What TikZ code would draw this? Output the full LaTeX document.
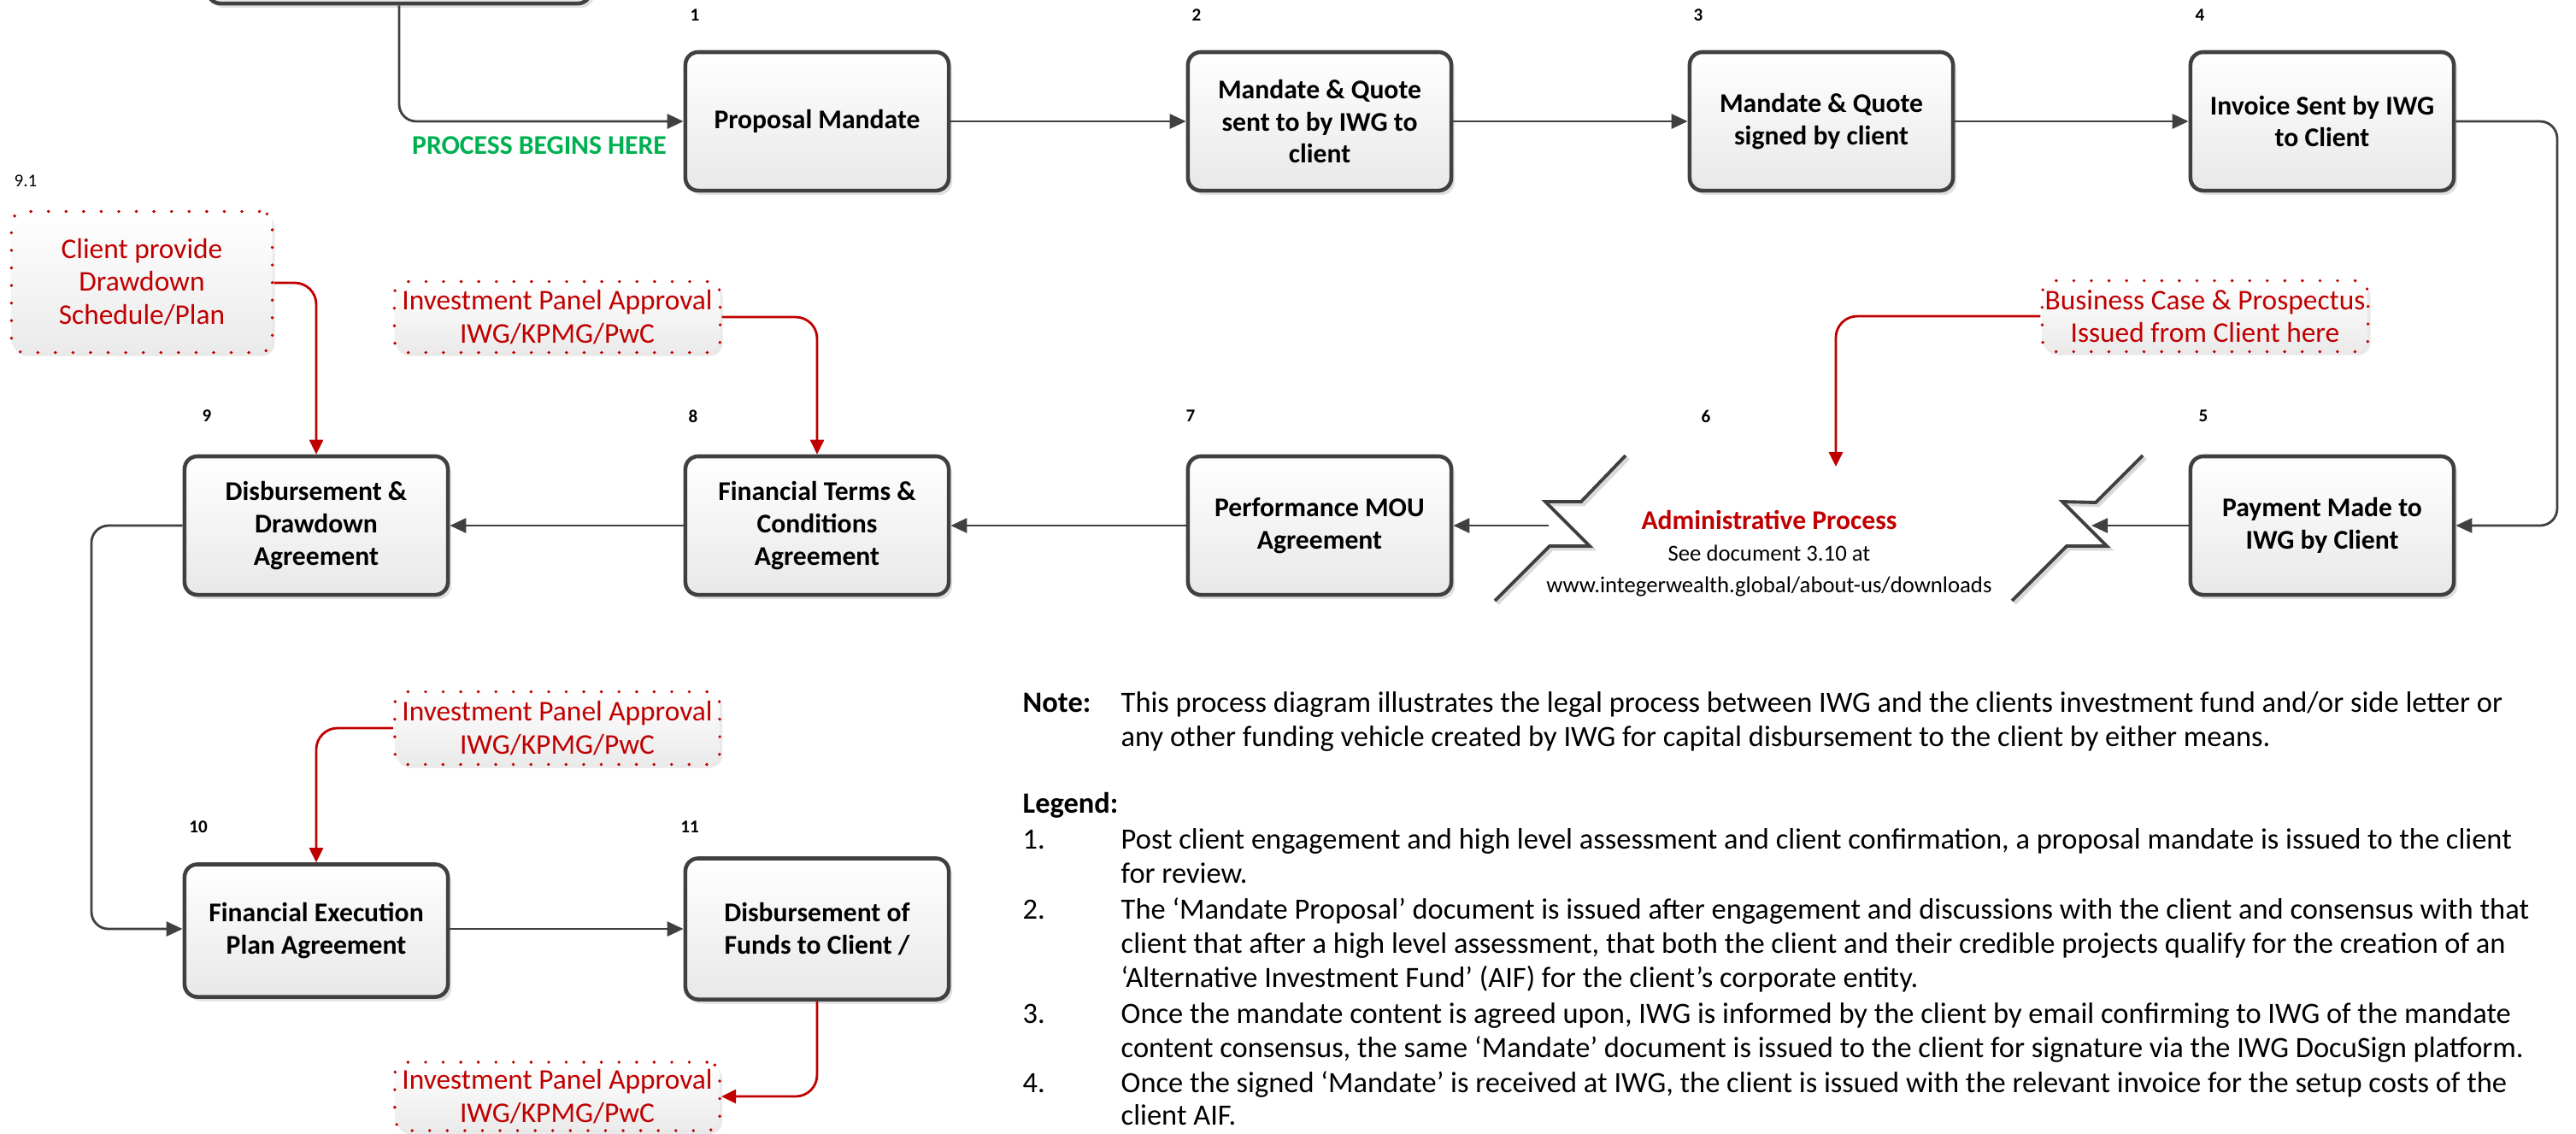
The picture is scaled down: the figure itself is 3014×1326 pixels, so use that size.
\documentclass[tikz,border=0pt]{standalone}
\usepackage{fontspec}
\setmainfont{Carlito}
\usetikzlibrary{arrows.meta,shadows}
\definecolor{bordergray}{HTML}{404040}
\definecolor{iwgred}{HTML}{C00000}
\definecolor{iwggreen}{HTML}{00B050}
\tikzset{
  procbox/.style={draw=bordergray, line width=1.3pt, rounded corners=0.15cm,
    top color=white, bottom color=black!9, minimum width=3.08cm, minimum height=1.62cm,
    align=center, inner sep=0pt, font=\fontsize{9}{10.8}\selectfont\bfseries,
    drop shadow={shadow xshift=0.04cm, shadow yshift=-0.05cm, fill=black!30, opacity=0.4}},
  notebox/.style={draw=iwgred, line width=1.1pt, dash pattern=on 0pt off 5.85pt, line cap=round,
    rounded corners=0.15cm, top color=white, bottom color=black!8, align=center, inner sep=0pt,
    text=iwgred, font=\fontsize{9.5}{11}\selectfont,
    drop shadow={shadow xshift=0.03cm, shadow yshift=-0.04cm, fill=black!25, opacity=0.35}},
  flow/.style={draw=bordergray, line width=0.8pt, -{Triangle[length=0.19cm, width=0.17cm]}, rounded corners=0.2cm},
  redflow/.style={draw=iwgred, line width=0.8pt, -{Triangle[length=0.17cm, width=0.16cm]}, rounded corners=0.25cm},
  stepnum/.style={font=\fontsize{6}{7}\selectfont\bfseries, inner sep=0pt},
  legtext/.style={anchor=base west, inner sep=0pt, font=\fontsize{9.8}{11.8}\selectfont},
  bolt/.style={draw=bordergray, line width=1.1pt, line join=miter},
  boltshadow/.style={draw=black!15, line width=1.3pt, line join=miter},
}
\begin{document}
\begin{tikzpicture}[x=0.01cm, y=-0.01cm]
\useasboundingbox (0,0) rectangle (3014,1326);
\begin{scope}
\clip (0,0) rectangle (3014,1326);
\node[procbox, minimum width=4.48cm, minimum height=1.6cm] (top0) at (467,-76) {};
\node[notebox, minimum width=3.80cm, minimum height=0.80cm] (ipa3) at (652,1283) {Investment Panel Approval\\IWG/KPMG/PwC};
\end{scope}

% row 1
\node[procbox] (b1) at (956,142) {Proposal Mandate};
\node[procbox] (b2) at (1544,142) {Mandate \& Quote\\sent to by IWG to\\client};
\node[procbox] (b3) at (2131,142) {Mandate \& Quote\\signed by client};
\node[procbox] (b4) at (2717,142) {Invoice Sent by IWG\\to Client};
% row 2
\node[procbox] (b5) at (2717,615) {Payment Made to\\IWG by Client};
\node[procbox] (b7) at (1544,615) {Performance MOU\\Agreement};
\node[procbox] (b8) at (956,615) {Financial Terms \&\\Conditions\\Agreement};
\node[procbox] (b9) at (370,615) {Disbursement \&\\Drawdown\\Agreement};
% row 3
\node[procbox, minimum height=1.55cm] (b10) at (370,1089) {Financial Execution\\Plan Agreement};
\node[procbox, minimum height=1.65cm] (b11) at (956,1087) {Disbursement of\\Funds to Client /};

% step numbers
\node[stepnum] (n1) at (813,18) {1};
\node[stepnum] (n2) at (1400,18) {2};
\node[stepnum] (n3) at (1987,18) {3};
\node[stepnum] (n4) at (2574,18) {4};
\node[stepnum] (n9) at (242,487) {9};
\node[stepnum] (n8) at (811,487) {8};
\node[stepnum] (n7) at (1393,487) {7};
\node[stepnum] (n6) at (1996,487) {6};
\node[stepnum] (n5) at (2578,487) {5};
\node[stepnum] (n10) at (232,968) {10};
\node[stepnum] (n11) at (807,968) {11};
\node[stepnum, font=\fontsize{6}{7}\selectfont] (n91) at (30,212) {9.1};

\node[font=\fontsize{9}{10.8}\selectfont\bfseries, text=iwggreen, inner sep=0pt] (begin) at (631,170) {PROCESS BEGINS HERE};

% red note boxes
\node[notebox, minimum width=3.05cm, minimum height=1.65cm] (s91) at (166,330) {Client provide\\Drawdown\\Schedule/Plan};
\node[notebox, minimum width=3.81cm, minimum height=0.83cm] (ipa1) at (652,371) {Investment Panel Approval\\IWG/KPMG/PwC};
\node[notebox, minimum width=3.80cm, minimum height=0.85cm] (ipa2) at (652,852) {Investment Panel Approval\\IWG/KPMG/PwC};
\node[notebox, minimum width=3.81cm, minimum height=0.83cm] (bc) at (2580,370) {Business Case \& Prospectus\\Issued from Client here};

% administrative process
\node[align=center, inner sep=0pt, font=\fontsize{7.6}{10.5}\selectfont] (adm) at (2070,648)
  {{\fontsize{9}{10.5}\selectfont\bfseries\color{iwgred}Administrative Process}\\See document 3.10 at\\www.integerwealth.global/about-us/downloads};

% lightning shapes
\draw[boltshadow] (2510,536) -- (2455,591) -- (2416,590) -- (2468,642) -- (2421,642) -- (2357,706);
\draw[bolt] (2507,533) -- (2452,588) -- (2413,587) -- (2465,639) -- (2418,639) -- (2354,703);
\draw[boltshadow] (1905,536) -- (1853,590) -- (1811,590) -- (1863,642) -- (1816,642) -- (1752,706);
\draw[bolt] (1902,533) -- (1850,587) -- (1808,587) -- (1860,639) -- (1813,639) -- (1749,703);
\coordinate (z5) at (2447,615);
\coordinate (z6) at (1812,615);
\coordinate (bcend) at (2148,546);

% grey connectors
\draw[flow] (top0.south) |- (b1.west);
\draw[flow] (b1) -- (b2);
\draw[flow] (b2) -- (b3);
\draw[flow] (b3) -- (b4);
\draw[flow] (b4.east) -- (2992,142) -- (2992,615) -- (b5.east);
\draw[flow] (b5.west) -- (z5);
\draw[flow] (z6) -- (b7.east);
\draw[flow] (b7) -- (b8);
\draw[flow] (b8) -- (b9);
\draw[flow] (b9.west) -- (107,615) -- (107,1087) -- (b10.west |- 0,1087);
\draw[flow] (b10.east |- 0,1087) -- (b11.west |- 0,1087);

% red connectors
\draw[redflow] (s91.east |- 0,331) -| (b9.north);
\draw[redflow] (ipa1.east) -| (b8.north);
\draw[redflow] (ipa2.west) -| (b10.north);
\draw[redflow] (b11.south) |- (ipa3.east);
\draw[redflow] (bc.west) -| (bcend);

% note and legend
\node[legtext, font=\fontsize{9.8}{11.8}\selectfont\bfseries] (notel) at (1196,833) {Note:};
\node[legtext] (note1) at (1311,833) {This process diagram illustrates the legal process between IWG and the clients investment fund and/or side letter or};
\node[legtext] (note2) at (1311,873) {any other funding vehicle created by IWG for capital disbursement to the client by either means.};
\node[legtext, font=\fontsize{9.8}{11.8}\selectfont\bfseries] (leg) at (1196,951) {Legend:};
\node[legtext] (k1) at (1196,993) {1.};
\node[legtext] (l1a) at (1311,993) {Post client engagement and high level assessment and client confirmation, a proposal mandate is issued to the client};
\node[legtext] (l1b) at (1311,1033) {for review.};
\node[legtext] (k2) at (1196,1075) {2.};
\node[legtext] (l2a) at (1311,1075) {The ‘Mandate Proposal’ document is issued after engagement and discussions with the client and consensus with that};
\node[legtext] (l2b) at (1311,1115) {client that after a high level assessment, that both the client and their credible projects qualify for the creation of an};
\node[legtext] (l2c) at (1311,1155) {‘Alternative Investment Fund’ (AIF) for the client’s corporate entity.};
\node[legtext] (k3) at (1196,1197) {3.};
\node[legtext] (l3a) at (1311,1197) {Once the mandate content is agreed upon, IWG is informed by the client by email confirming to IWG of the mandate};
\node[legtext] (l3b) at (1311,1237) {content consensus, the same ‘Mandate’ document is issued to the client for signature via the IWG DocuSign platform.};
\node[legtext] (k4) at (1196,1278) {4.};
\node[legtext] (l4a) at (1311,1278) {Once the signed ‘Mandate’ is received at IWG, the client is issued with the relevant invoice for the setup costs of the};
\node[legtext] (l4b) at (1311,1316) {client AIF.};
\end{tikzpicture}
\end{document}
